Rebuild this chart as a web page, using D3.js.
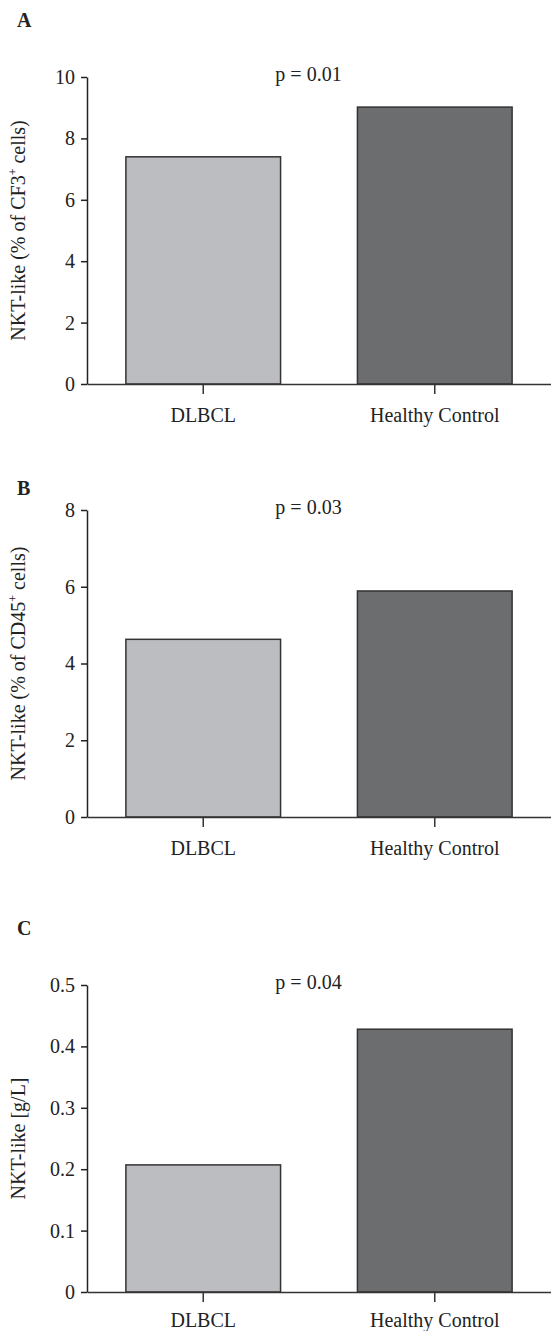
<!DOCTYPE html>
<html>
<head>
<meta charset="utf-8">
<script src="https://cdn.jsdelivr.net/npm/d3@7/dist/d3.min.js"></script>
<style>
  body { margin: 0; background: #fff; }
  svg text { font-family: "Liberation Serif", "Times New Roman", serif; fill: #222; }
</style>
</head>
<body>
<div id="chart"></div>
<script>
// data
const categories = ["DLBCL", "Healthy Control"];
const valuesA = [7.4, 9.02];
const valuesB = [4.63, 5.89];
const valuesC = [0.207, 0.428];
const ticksA = [0, 2, 4, 6, 8, 10];
const ticksB = [0, 2, 4, 6, 8];
const ticksC = [0, 0.1, 0.2, 0.3, 0.4, 0.5];
const pLabels = ["p = 0.01", "p = 0.03", "p = 0.04"];
const panelLetters = ["A", "B", "C"];
const barColors = ["#bcbdc0", "#6c6d6f"];

const width = 551, height = 1331;
const svg = d3.select('#chart').append('svg')
  .attr('width', width)
  .attr('height', height);

const panels = [
  { letter: panelLetters[0], values: valuesA, ticks: ticksA, p: pLabels[0],
    top: 77, bottom: 384, letterY: 27, pad: 14, label: ['NKT-like (% of CF3', '+', ' cells)'] },
  { letter: panelLetters[1], values: valuesB, ticks: ticksB, p: pLabels[1],
    top: 510, bottom: 817, letterY: 495, pad: 14, label: ['NKT-like (% of CD45', '+', ' cells)'] },
  { letter: panelLetters[2], values: valuesC, ticks: ticksC, p: pLabels[2],
    top: 985, bottom: 1292, letterY: 935, pad: 11, label: ['NKT-like [g/L]'] }
];

const x = d3.scaleBand()
  .domain(categories)
  .range([87, 551])
  .paddingInner(0.332)
  .paddingOuter(0.168);

panels.forEach(function (p) {
  const y = d3.scaleLinear()
    .domain([0, d3.max(p.ticks)])
    .range([p.bottom, p.top]);

  const g = svg.append('g');

  // bars
  g.selectAll('rect')
    .data(p.values)
    .enter()
    .append('rect')
    .attr('x', (d, i) => x(categories[i]))
    .attr('y', d => y(d))
    .attr('width', x.bandwidth())
    .attr('height', d => p.bottom - y(d))
    .attr('fill', (d, i) => barColors[i])
    .attr('stroke', '#333')
    .attr('stroke-width', 1.5);

  // y axis
  const fmt = d => d === 0 ? '0' : (p.ticks[p.ticks.length - 1] < 1 ? d3.format('.1f')(d) : d);
  const yAxis = g.append('g')
    .attr('transform', 'translate(87,0)')
    .call(d3.axisLeft(y).tickValues(p.ticks).tickFormat(fmt).tickSize(6).tickSizeOuter(0).tickPadding(6));
  yAxis.selectAll('path, line').attr('stroke', '#222').attr('stroke-width', 1.5);
  yAxis.selectAll('text').style('font-size', '20px').attr('fill', '#222');

  // x axis
  const xAxis = g.append('g')
    .attr('transform', 'translate(0,' + p.bottom + ')')
    .call(d3.axisBottom(x).tickSize(10).tickSizeOuter(0).tickPadding(p.pad));
  xAxis.selectAll('path, line').attr('stroke', '#333').attr('stroke-width', 1.5);
  xAxis.selectAll('text').style('font-size', '20px').attr('fill', '#222');

  // p value
  g.append('text')
    .attr('x', 308.5)
    .attr('y', p.top + 4)
    .attr('text-anchor', 'middle')
    .style('font-size', '20px')
    .text(p.p);

  // panel letter
  g.append('text')
    .attr('x', 17)
    .attr('y', p.letterY)
    .style('font-size', '20px')
    .style('font-weight', 'bold')
    .text(p.letter);

  // y label
  const lab = g.append('text')
    .attr('transform', 'translate(25,' + (p.top + p.bottom) / 2 + ') rotate(-90)')
    .attr('text-anchor', 'middle')
    .style('font-size', '20px');
  lab.append('tspan').text(p.label[0]);
  if (p.label.length > 1) {
    lab.append('tspan').attr('dy', -8).style('font-size', '12px').text(p.label[1]);
    lab.append('tspan').attr('dy', 8).text(p.label[2]);
  }
});
</script>
</body>
</html>
